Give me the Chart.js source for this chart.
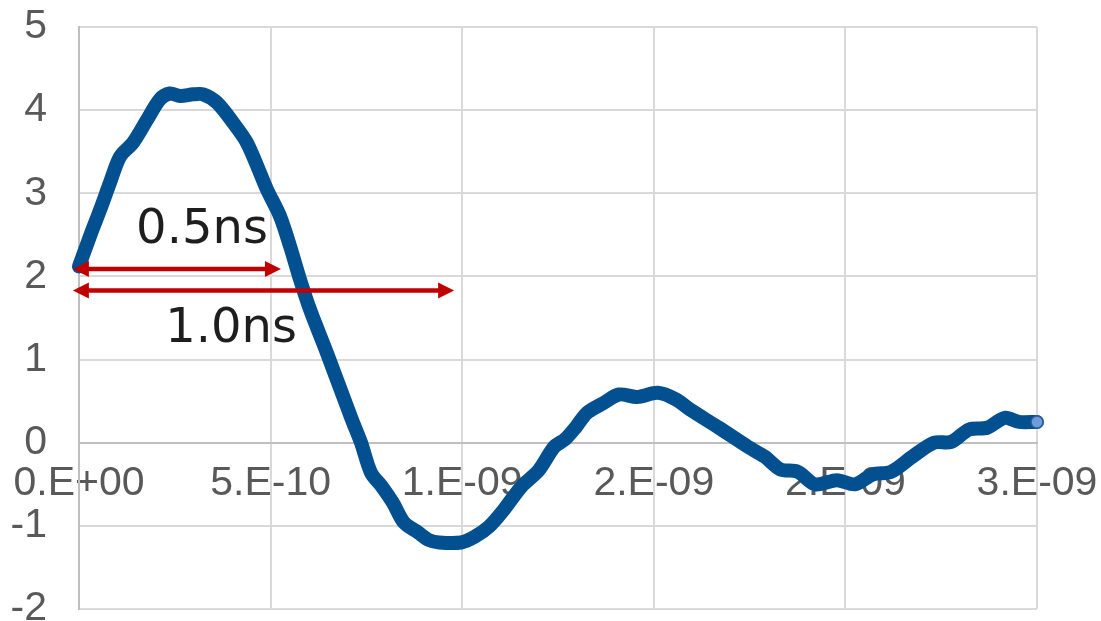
<!DOCTYPE html>
<html>
<head>
<meta charset="utf-8">
<script src="https://cdn.jsdelivr.net/npm/chart.js@4/dist/chart.umd.min.js"></script>
<style>
  html, body { margin: 0; padding: 0; background: #ffffff; }
  #wrap { width: 1101px; height: 621px; }
</style>
</head>
<body>
<div id="wrap"><canvas id="chart"></canvas></div>
<script>
// time in ns (axis shows seconds, Excel style labels)
let timeNs = [0, 0.03, 0.055, 0.081, 0.107, 0.141, 0.177, 0.211, 0.237, 0.264, 0.298, 0.324,
    0.36, 0.402, 0.438, 0.472, 0.49, 0.525, 0.551, 0.577, 0.603, 0.647, 0.712, 0.736,
    0.762, 0.791, 0.819, 0.848, 0.885, 0.913, 0.94, 0.997, 1.033, 1.07, 1.108, 1.154,
    1.2, 1.24, 1.268, 1.297, 1.326, 1.37, 1.409, 1.456, 1.511, 1.558, 1.594, 1.67,
    1.746, 1.79, 1.83, 1.876, 1.921, 1.978, 2.025, 2.072, 2.119, 2.174, 2.231, 2.276,
    2.323, 2.37, 2.416, 2.453, 2.5];
let voltage = [2.12, 2.5, 2.8, 3.13, 3.44, 3.61, 3.88, 4.13, 4.2, 4.17, 4.19, 4.19,
    4.09, 3.85, 3.61, 3.25, 3.05, 2.72, 2.36, 1.96, 1.6, 1.08, 0.28, 0.0,
    -0.36, -0.53, -0.72, -0.96, -1.08, -1.17, -1.2, -1.2, -1.13, -1.01, -0.81, -0.53,
    -0.33, -0.05, 0.04, 0.19, 0.36, 0.48, 0.58, 0.55, 0.6, 0.52, 0.4, 0.18,
    -0.05, -0.17, -0.32, -0.35, -0.5, -0.45, -0.5, -0.38, -0.35, -0.17, 0.0, 0.01,
    0.16, 0.18, 0.3, 0.25, 0.25];

let xTickLabels = ["0.E+00", "5.E-10", "1.E-09", "2.E-09", "2.E-09", "3.E-09"];

// measurement arrows (ns / volts)
let arrowLabels = ["0.5ns", "1.0ns"];
let arrowStartNs = [-0.016, -0.016];
let arrowEndNs = [0.527, 0.979];
let arrowLevels = [2.09, 1.83];

let lastIndex = timeNs.length - 1;

let arrowPlugin = {
    id: "arrowPlugin",
    afterDatasetsDraw(chart){
        let ctx = chart.ctx;
        let xs = chart.scales.x;
        let ys = chart.scales.y;
        ctx.save();
        ctx.strokeStyle = "#c00000";
        ctx.fillStyle = "#c00000";
        ctx.lineWidth = 4.5;
        for(let i = 0; i < arrowLabels.length; i++){
            let x1 = xs.getPixelForValue(arrowStartNs[i]);
            let x2 = xs.getPixelForValue(arrowEndNs[i]);
            let y = ys.getPixelForValue(arrowLevels[i]);
            let head = 16;
            let half = 8;
            ctx.beginPath();
            ctx.moveTo(x1 + head - 2, y);
            ctx.lineTo(x2 - head + 2, y);
            ctx.stroke();
            ctx.beginPath();
            ctx.moveTo(x1, y);
            ctx.lineTo(x1 + head, y - half);
            ctx.lineTo(x1 + head, y + half);
            ctx.closePath();
            ctx.fill();
            ctx.beginPath();
            ctx.moveTo(x2, y);
            ctx.lineTo(x2 - head, y - half);
            ctx.lineTo(x2 - head, y + half);
            ctx.closePath();
            ctx.fill();
        }
        ctx.fillStyle = "#1e1e1e";
        ctx.font = "48px 'DejaVu Sans'";
        ctx.textAlign = "center";
        ctx.textBaseline = "middle";
        ctx.fillText(arrowLabels[0], xs.getPixelForValue(0.321), ys.getPixelForValue(2.55));
        ctx.fillText(arrowLabels[1], xs.getPixelForValue(0.397), ys.getPixelForValue(1.36));
        ctx.restore();
    }
};

let points = timeNs.map((t, i) => ({x: t, y: voltage[i]}));

new Chart(document.getElementById("chart"), {
    type: "scatter",
    data: {
        datasets: [
            {
                data: points,
                showLine: true,
                borderColor: "#02508f",
                borderWidth: 14,
                borderCapStyle: "round",
                borderJoinStyle: "round",
                tension: 0.3,
                clip: false,
                pointRadius: (c) => c.dataIndex === lastIndex ? 6 : 0,
                pointBackgroundColor: "#6d9ddb",
                pointBorderColor: "#2c5d9c",
                pointBorderWidth: 1.5,
                pointHoverRadius: 0
            }
        ]
    },
    options: {
        responsive: true,
        maintainAspectRatio: false,
        animation: false,
        layout: { padding: { left: 10, right: 64, top: 27, bottom: 12 } },
        plugins: {
            legend: { display: false },
            tooltip: { enabled: false }
        },
        scales: {
            x: {
                type: "linear",
                position: { y: 0 },
                min: 0,
                max: 2.5,
                grid: { color: "#d9d9d9", lineWidth: 2, drawTicks: false },
                border: { color: "#bfbfbf", width: 2 },
                ticks: {
                    stepSize: 0.5,
                    autoSkip: false,
                    maxRotation: 0,
                    padding: 16,
                    color: "#595959",
                    font: { family: "'Liberation Sans', Arial", size: 41 },
                    callback: (v, i) => xTickLabels[i]
                },
                afterFit: (s) => {
                    s.paddingLeft = 0;
                    s.paddingRight = 0;
                }
            },
            y: {
                min: -2,
                max: 5,
                grid: {
                    color: (c) => c.tick && c.tick.value === 0 ? "#bfbfbf" : "#d9d9d9",
                    lineWidth: 2,
                    drawTicks: false
                },
                border: { color: "#bfbfbf", width: 2 },
                ticks: {
                    stepSize: 1,
                    padding: 32,
                    color: "#595959",
                    font: { family: "'Liberation Sans', Arial", size: 41 }
                },
                afterFit: (s) => {
                    s.width = 69;
                    s.paddingTop = 0;
                    s.paddingBottom = 0;
                }
            }
        }
    },
    plugins: [arrowPlugin]
});
</script>
</body>
</html>
